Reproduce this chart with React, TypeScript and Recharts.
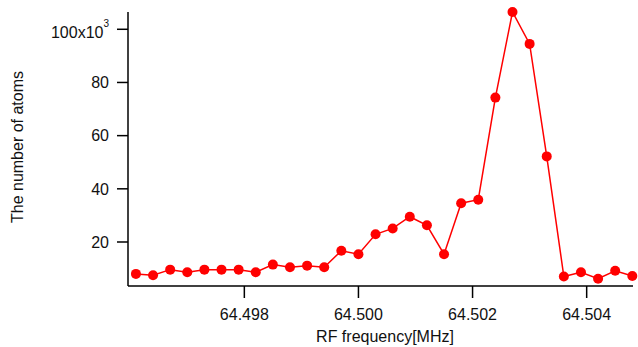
import React from 'react';
import { LineChart, Line, XAxis, YAxis } from 'recharts';

// RF frequency in MHz
const frequency = [
    64.4961, 64.4964, 64.4967, 64.497, 64.4973, 64.4976, 64.4979, 64.4982, 64.4985, 64.4988,
    64.4991, 64.4994, 64.4997, 64.5, 64.5003, 64.5006, 64.5009, 64.5012, 64.5015, 64.5018,
    64.5021, 64.5024, 64.5027, 64.503, 64.5033, 64.5036, 64.5039, 64.5042, 64.5045, 64.5048,
];

// number of atoms, in thousands
const atoms = [
    8.0, 7.5, 9.6, 8.6, 9.6, 9.6, 9.6, 8.6, 11.5, 10.5,
    11.1, 10.5, 16.7, 15.4, 22.9, 25.1, 29.5, 26.3, 15.4, 34.6,
    35.9, 74.3, 106.5, 94.5, 52.2, 7.0, 8.6, 6.2, 9.2, 7.2,
];

const xTicks = [64.498, 64.5, 64.502, 64.504];
const yTicks = [20, 40, 60, 80, 100];

const data = frequency.map((f, i) => ({ f, n: atoms[i] }));

const FONT = "Arial, 'Liberation Sans', sans-serif";

const YTick = (props: any) => {
    const { x, y, payload } = props;
    const v = payload.value;
    if (v === 100) {
        return (
            <text x={x} y={y} dy={8.4} textAnchor="end" fontSize={16} fontFamily={FONT} fill="#111">
                100x10
                <tspan fontSize={10} dy={-11}>3</tspan>
            </text>
        );
    }
    return (
        <text x={x} y={y} dy={5.7} textAnchor="end" fontSize={16} fontFamily={FONT} fill="#111">
            {v}
        </text>
    );
};

const XTitle = () => (
    <text x={385} y={342} textAnchor="middle" fontSize={16} fontFamily={FONT} fill="#111">
        RF frequency[MHz]
    </text>
);

const YTitle = () => (
    <text transform="translate(23,147) rotate(-90)" textAnchor="middle" fontSize={16} fontFamily={FONT} fill="#111">
        The number of atoms
    </text>
);

export default function App() {
    return (
        <div style={{ position: 'absolute', left: 0, top: 0, background: '#fff' }}>
            <LineChart width={638} height={347} data={data} margin={{ top: 12, right: 5, bottom: 0, left: 0 }}>
                <XAxis
                    dataKey="f"
                    type="number"
                    domain={[64.495961, 64.504812]}
                    ticks={xTicks}
                    tickFormatter={(v: number) => v.toFixed(3)}
                    height={61}
                    tickSize={12}
                    tickMargin={11}
                    stroke="#000"
                    strokeWidth={1.5}
                    tick={{ fill: '#111', fontSize: 16, fontFamily: FONT }}
                    label={<XTitle />}
                />
                <YAxis
                    type="number"
                    domain={[3.45, 106.5]}
                    ticks={yTicks}
                    width={128}
                    tickSize={11}
                    tickMargin={8}
                    stroke="#000"
                    strokeWidth={1.5}
                    tick={<YTick />}
                    label={<YTitle />}
                />
                <Line
                    dataKey="n"
                    stroke="#ff0000"
                    strokeWidth={1.5}
                    dot={{ r: 5, fill: '#ff0000', stroke: 'none', clipDot: false }}
                    activeDot={false}
                    isAnimationActive={false}
                />
            </LineChart>
        </div>
    );
}
